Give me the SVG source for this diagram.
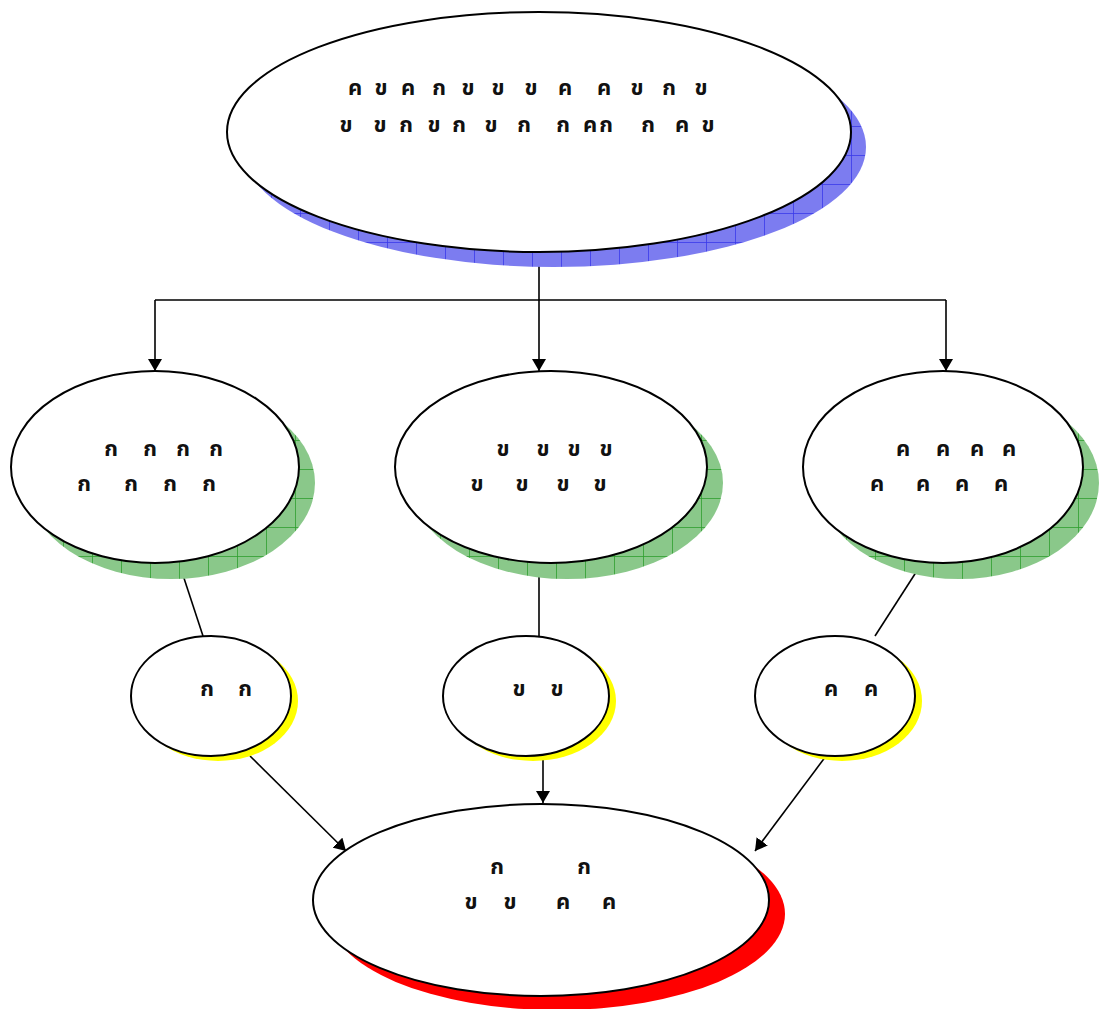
<svg xmlns="http://www.w3.org/2000/svg" width="1099" height="1009" viewBox="0 0 1099 1009">
<style>
.node{fill:#fff;stroke:#000;stroke-width:2}
.lbl{font-family:"Noto Sans Thai","Noto Sans","DejaVu Sans",sans-serif;font-size:22px;font-weight:bold;fill:#111;text-anchor:middle}
.con{stroke:#000;stroke-width:1.6;fill:none}
.blue{fill:url(#gridBlue)}
.green{fill:url(#gridGreen)}
.yellow{fill:#ffff00}
.red{fill:#ff0000}
</style>
<defs>
<pattern id="gridBlue" width="29" height="29" patternUnits="userSpaceOnUse" x="10" y="10">
<rect width="29" height="29" fill="#7c7cf0"/>
<path d="M0 0.5H29M0.5 0V29" stroke="#3a3aea" stroke-width="0.8"/>
</pattern>
<pattern id="gridGreen" width="29" height="29" patternUnits="userSpaceOnUse" x="5" y="5">
<rect width="29" height="29" fill="#8ac88a"/>
<path d="M0 0.5H29M0.5 0V29" stroke="#2f9e2f" stroke-width="0.8"/>
</pattern>
<marker id="arr" viewBox="0 0 12 14" refX="12" refY="7" markerWidth="12" markerHeight="14" markerUnits="userSpaceOnUse" orient="auto">
<path d="M0 0L12 7L0 14Z" fill="#000"/>
</marker>
</defs>
<rect width="1099" height="1009" fill="#fff"/>

<g id="connectors">
<path class="con" d="M539 252V300M155 300H946"/>
<path class="con" d="M155 300V371" marker-end="url(#arr)"/>
<path class="con" d="M539 300V371" marker-end="url(#arr)"/>
<path class="con" d="M946 300V371" marker-end="url(#arr)"/>
<path class="con" d="M179 563L203 636"/>
<path class="con" d="M539 563V636"/>
<path class="con" d="M922 563L875 636"/>
<path class="con" d="M250 756L346 851" marker-end="url(#arr)"/>
<path class="con" d="M543 756V803" marker-end="url(#arr)"/>
<path class="con" d="M826 756L755 851" marker-end="url(#arr)"/>
</g>

<g id="top">
<ellipse class="blue" cx="554" cy="147" rx="312" ry="120"/>
<ellipse class="node" cx="539" cy="132" rx="312" ry="120"/>
<text class="lbl" x="355 381 408 439 468 498 531 565 604 637 669 701" y="95">คขคกขขขคคขกข</text>
<text class="lbl" x="346 380 406 434 459 491 524 563 590 606 648 682 708" y="132">ขขกขกขกกคกกคข</text>
</g>

<g id="mid-left">
<ellipse class="green" cx="171" cy="483" rx="144" ry="96"/>
<ellipse class="node" cx="155" cy="467" rx="144" ry="96"/>
<text class="lbl" x="111 150 183 216" y="456">กกกก</text>
<text class="lbl" x="84 131 170 209" y="491">กกกก</text>
</g>

<g id="mid-center">
<ellipse class="green" cx="567" cy="483" rx="156" ry="96"/>
<ellipse class="node" cx="551" cy="467" rx="156" ry="96"/>
<text class="lbl" x="503 543 574 606" y="456">ขขขข</text>
<text class="lbl" x="477 522 563 600" y="491">ขขขข</text>
</g>

<g id="mid-right">
<ellipse class="green" cx="959" cy="483" rx="140" ry="96"/>
<ellipse class="node" cx="943" cy="467" rx="140" ry="96"/>
<text class="lbl" x="903 943 977 1009" y="456">คคคค</text>
<text class="lbl" x="877 923 962 1001" y="491">คคคค</text>
</g>

<g id="small-left">
<ellipse class="yellow" cx="218" cy="701" rx="80" ry="60"/>
<ellipse class="node" cx="211" cy="696" rx="80" ry="60"/>
<text class="lbl" x="207 245" y="696">กก</text>
</g>

<g id="small-center">
<ellipse class="yellow" cx="533" cy="701" rx="83" ry="60"/>
<ellipse class="node" cx="526" cy="696" rx="83" ry="60"/>
<text class="lbl" x="519 557" y="696">ขข</text>
</g>

<g id="small-right">
<ellipse class="yellow" cx="842" cy="701" rx="80" ry="60"/>
<ellipse class="node" cx="835" cy="696" rx="80" ry="60"/>
<text class="lbl" x="831 871" y="696">คค</text>
</g>

<g id="bottom">
<ellipse class="red" cx="557" cy="914" rx="228" ry="96"/>
<ellipse class="node" cx="541" cy="900" rx="228" ry="96"/>
<text class="lbl" x="497 584" y="874">กก</text>
<text class="lbl" x="471 510 563 609" y="909">ขขคค</text>
</g>
</svg>
